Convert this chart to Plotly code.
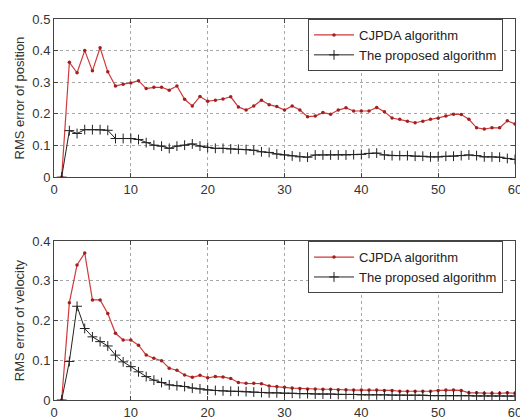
import plotly.graph_objects as go
from plotly.subplots import make_subplots

steps = list(range(1, 61))

pos_cjpda = [0.0, 0.363, 0.33, 0.40, 0.336, 0.409, 0.333, 0.288, 0.294, 0.298,
             0.305, 0.28, 0.284, 0.284, 0.275, 0.288, 0.246, 0.225, 0.255, 0.24,
             0.243, 0.247, 0.254, 0.222, 0.212, 0.225, 0.243, 0.229, 0.223, 0.212,
             0.225, 0.212, 0.191, 0.193, 0.204, 0.199, 0.212, 0.219, 0.209, 0.209,
             0.209, 0.22, 0.207, 0.187, 0.183, 0.177, 0.172, 0.177, 0.183, 0.186,
             0.193, 0.199, 0.198, 0.183, 0.156, 0.152, 0.156, 0.156, 0.178, 0.168]
pos_prop = [0.0, 0.147, 0.138, 0.15, 0.15, 0.15, 0.148, 0.122, 0.122, 0.122,
            0.119, 0.109, 0.101, 0.098, 0.091, 0.098, 0.101, 0.105, 0.098, 0.094,
            0.091, 0.091, 0.089, 0.088, 0.087, 0.085, 0.08, 0.078, 0.073, 0.07,
            0.067, 0.064, 0.063, 0.07, 0.07, 0.07, 0.07, 0.07, 0.071, 0.072,
            0.075, 0.076, 0.07, 0.068, 0.068, 0.068, 0.066, 0.066, 0.064, 0.064,
            0.066, 0.066, 0.068, 0.07, 0.068, 0.064, 0.064, 0.063, 0.059, 0.056]
vel_cjpda = [0.0, 0.245, 0.34, 0.37, 0.252, 0.252, 0.218, 0.168, 0.151, 0.151,
             0.138, 0.113, 0.105, 0.099, 0.08, 0.075, 0.063, 0.057, 0.062, 0.056,
             0.059, 0.058, 0.054, 0.044, 0.042, 0.042, 0.041, 0.035, 0.034, 0.032,
             0.03, 0.029, 0.028, 0.028, 0.027, 0.027, 0.026, 0.026, 0.025, 0.025,
             0.025, 0.025, 0.024, 0.024, 0.022, 0.022, 0.022, 0.022, 0.022, 0.024,
             0.025, 0.025, 0.024, 0.018, 0.018, 0.017, 0.017, 0.017, 0.018, 0.017]
vel_prop = [0.0, 0.097, 0.236, 0.18, 0.159, 0.147, 0.136, 0.113, 0.096, 0.084,
            0.071, 0.059, 0.05, 0.044, 0.038, 0.036, 0.034, 0.03, 0.028, 0.025,
            0.024, 0.023, 0.022, 0.022, 0.021, 0.02, 0.019, 0.018, 0.018, 0.017,
            0.017, 0.016, 0.016, 0.015, 0.015, 0.015, 0.014, 0.014, 0.014, 0.013,
            0.013, 0.013, 0.013, 0.012, 0.012, 0.012, 0.012, 0.012, 0.011, 0.011,
            0.011, 0.011, 0.011, 0.011, 0.01, 0.01, 0.01, 0.01, 0.01, 0.01]

names = ["CJPDA algorithm", "The proposed algorithm"]
ytitles = ["RMS error of position", "RMS error of velocity"]

RED = "#d0393b"
BLK = "#222222"
FONT = "Liberation Sans, Arial, sans-serif"

fig = make_subplots(rows=2, cols=1, vertical_spacing=0.0)

for row, (c, p, leg) in enumerate([(pos_cjpda, pos_prop, "legend"),
                                    (vel_cjpda, vel_prop, "legend2")], start=1):
    fig.add_trace(go.Scatter(x=steps, y=c, name=names[0], mode="lines+markers",
                             line=dict(color=RED, width=1.2),
                             marker=dict(symbol="circle", size=3.5, color="#a02020"),
                             legend=leg), row=row, col=1)
    fig.add_trace(go.Scatter(x=steps, y=p, name=names[1], mode="lines+markers",
                             line=dict(color=BLK, width=1),
                             marker=dict(symbol="cross-thin", size=7,
                                         line=dict(color=BLK, width=1)),
                             legend=leg), row=row, col=1)

axis_common = dict(showline=True, linecolor="#444", linewidth=1, mirror="ticks",
                   ticks="inside", ticklen=4, tickcolor="#444",
                   showgrid=True, gridcolor="#a8a8a8", griddash="dot", gridwidth=1,
                   zeroline=False, automargin=False, ticklabeloverflow="allow",
                   tickfont=dict(family=FONT, size=13, color="#333"))

title_font = dict(family=FONT, size=13, color="#333")
fig.update_xaxes(range=[0, 60], dtick=10, **axis_common)
fig.update_yaxes(**axis_common)
fig.update_yaxes(range=[0, 0.5], dtick=0.1, row=1, col=1,
                 title=dict(text=ytitles[0], font=title_font, standoff=4))
fig.update_yaxes(range=[0, 0.4], dtick=0.1, row=2, col=1,
                 title=dict(text=ytitles[1], font=title_font, standoff=4))

legend_common = dict(xanchor="right", yanchor="top",
                     bgcolor="white", bordercolor="#444", borderwidth=1,
                     font=dict(family=FONT, size=13, color="#222"),
                     tracegroupgap=0, itemwidth=40)

fig.update_layout(
    width=520, height=419,
    margin=dict(l=54, r=5, t=19, b=19),
    paper_bgcolor="white", plot_bgcolor="white",
    font=dict(family=FONT, size=13, color="#333"),
    showlegend=True,
    yaxis=dict(domain=[0.585, 1.0]),
    yaxis2=dict(domain=[0.0, 0.417]),
    legend=dict(x=0.974, y=1.0, **legend_common),
    legend2=dict(x=0.974, y=0.417, **legend_common),
)

fig.write_html("out.html", config={"displayModeBar": False},
               post_script="document.body.style.margin='0px';")
